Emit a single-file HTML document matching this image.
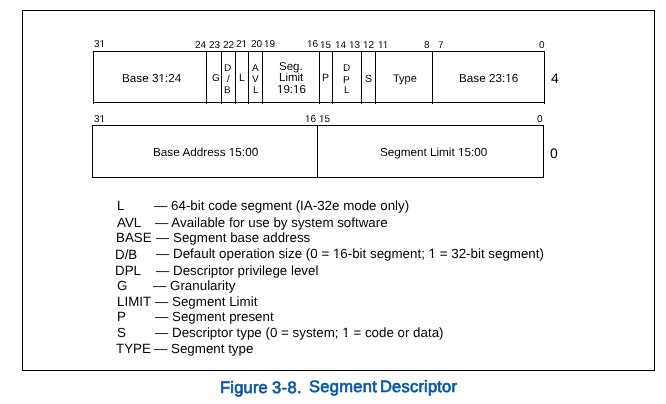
<!DOCTYPE html>
<html><head><meta charset="utf-8"><style>body{margin:0;background:#fff;width:666px;height:404px;overflow:hidden;position:relative} .t{position:absolute;white-space:pre;line-height:1;will-change:transform;text-rendering:geometricPrecision;font-family:'Liberation Sans', sans-serif;color:#000} .o{display:inline-block;clip-path:polygon(-2px -2px,calc(100% + 2px) -2px,calc(100% + 2px) 0.6em,0.235em 0.6em,0.235em 0.6em,0.235em 1.3em,0.357em 1.3em,0.357em 0.6em,-2px 0.6em)} .k{margin-right:-0.0742em} .v{position:absolute;width:1px;background:#000} .h{position:absolute;height:1px;background:#000}</style></head>
<body>
<div class="v" style="left:22px;top:10px;height:361px"></div>
<div class="v" style="left:654px;top:10px;height:361px"></div>
<div class="h" style="left:22px;top:10px;width:633px"></div>
<div class="h" style="left:22px;top:370px;width:633px"></div>
<div class="h" style="left:93px;top:51px;width:452px"></div>
<div class="h" style="left:93px;top:102px;width:452px"></div>
<div class="v" style="left:93px;top:51px;height:53px"></div>
<div class="v" style="left:206px;top:51px;height:53px"></div>
<div class="v" style="left:221px;top:51px;height:53px"></div>
<div class="v" style="left:235px;top:51px;height:53px"></div>
<div class="v" style="left:248px;top:51px;height:53px"></div>
<div class="v" style="left:262px;top:51px;height:53px"></div>
<div class="v" style="left:319px;top:51px;height:53px"></div>
<div class="v" style="left:332px;top:51px;height:53px"></div>
<div class="v" style="left:361px;top:51px;height:53px"></div>
<div class="v" style="left:375px;top:51px;height:53px"></div>
<div class="v" style="left:432px;top:51px;height:53px"></div>
<div class="v" style="left:544px;top:51px;height:53px"></div>
<div class="h" style="left:92px;top:125px;width:452px"></div>
<div class="h" style="left:92px;top:177px;width:452px"></div>
<div class="v" style="left:92px;top:125px;height:53px"></div>
<div class="v" style="left:317px;top:125px;height:53px"></div>
<div class="v" style="left:543px;top:125px;height:53px"></div>
<div class="t" style="left:94.00px;top:40.00px;font-size:10px;">3<span class="o">1</span></div>
<div class="t" style="left:195.00px;top:41.00px;font-size:10px;">24</div>
<div class="t" style="left:209.00px;top:41.00px;font-size:10px;">23</div>
<div class="t" style="left:223.00px;top:41.00px;font-size:10px;">22</div>
<div class="t" style="left:236.00px;top:40.00px;font-size:10px;">2<span class="o">1</span></div>
<div class="t" style="left:251.00px;top:40.00px;font-size:10px;">20</div>
<div class="t" style="left:264.00px;top:40.00px;font-size:10px;"><span class="o">1</span>9</div>
<div class="t" style="left:307.00px;top:40.00px;font-size:10px;"><span class="o">1</span>6</div>
<div class="t" style="left:320.00px;top:41.00px;font-size:10px;"><span class="o">1</span>5</div>
<div class="t" style="left:335.00px;top:41.00px;font-size:10px;"><span class="o">1</span>4</div>
<div class="t" style="left:349.00px;top:41.00px;font-size:10px;"><span class="o">1</span>3</div>
<div class="t" style="left:363.00px;top:41.00px;font-size:10px;"><span class="o">1</span>2</div>
<div class="t" style="left:378.00px;top:41.00px;font-size:10px;"><span class="o k">1</span><span class="o">1</span></div>
<div class="t" style="left:424.00px;top:41.00px;font-size:10px;">8</div>
<div class="t" style="left:438.00px;top:41.00px;font-size:10px;">7</div>
<div class="t" style="left:539.00px;top:41.00px;font-size:10px;">0</div>
<div class="t" style="left:94.00px;top:115.00px;font-size:10px;">3<span class="o">1</span></div>
<div class="t" style="left:305.00px;top:115.00px;font-size:10px;"><span class="o">1</span>6</div>
<div class="t" style="left:319.00px;top:115.00px;font-size:10px;"><span class="o">1</span>5</div>
<div class="t" style="left:537.00px;top:115.00px;font-size:10px;">0</div>
<div class="t" style="left:122.00px;top:73.00px;font-size:11.7px;">Base 3<span class="o">1</span>:24</div>
<div class="t" style="left:212.00px;top:74.00px;font-size:10px;">G</div>
<div class="t" style="left:224.00px;top:64.00px;font-size:10px;">D</div>
<div class="t" style="left:227.00px;top:75.00px;font-size:10px;">/</div>
<div class="t" style="left:224.00px;top:86.00px;font-size:10px;">B</div>
<div class="t" style="left:239.00px;top:73.00px;font-size:10.5px;">L</div>
<div class="t" style="left:252.00px;top:64.00px;font-size:10px;">A</div>
<div class="t" style="left:252.00px;top:75.00px;font-size:10px;">V</div>
<div class="t" style="left:253.00px;top:86.00px;font-size:10px;">L</div>
<div class="t" style="left:279.00px;top:62.00px;font-size:11.5px;">Seg.</div>
<div class="t" style="left:279.00px;top:73.00px;font-size:11.5px;">Limit</div>
<div class="t" style="left:277.00px;top:85.00px;font-size:11.5px;"><span class="o">1</span>9:<span class="o">1</span>6</div>
<div class="t" style="left:322.00px;top:73.00px;font-size:10.5px;">P</div>
<div class="t" style="left:343.00px;top:64.00px;font-size:10px;">D</div>
<div class="t" style="left:343.00px;top:76.00px;font-size:10px;">P</div>
<div class="t" style="left:344.00px;top:86.00px;font-size:10px;">L</div>
<div class="t" style="left:365.00px;top:74.00px;font-size:10.5px;">S</div>
<div class="t" style="left:393.00px;top:74.00px;font-size:11px;">Type</div>
<div class="t" style="left:459.00px;top:73.00px;font-size:11.7px;">Base 23:<span class="o">1</span>6</div>
<div class="t" style="left:551.00px;top:71.00px;font-size:14px;">4</div>
<div class="t" style="left:550.00px;top:146.00px;font-size:14px;">0</div>
<div class="t" style="left:153.00px;top:147.00px;font-size:11.75px;">Base Address <span class="o">1</span>5:00</div>
<div class="t" style="left:380.00px;top:147.00px;font-size:11.7px;">Segment Limit <span class="o">1</span>5:00</div>
<div class="t" style="left:117.00px;top:199.00px;font-size:13.35px;">L</div>
<div class="t" style="left:154.00px;top:199.00px;font-size:13.35px;">— 64-bit code segment (IA-32e mode only)</div>
<div class="t" style="left:117.00px;top:216.00px;font-size:13.35px;">AVL</div>
<div class="t" style="left:155.00px;top:216.00px;font-size:13.35px;">— Available for use by system software</div>
<div class="t" style="left:116.00px;top:231.00px;font-size:13.35px;">BASE</div>
<div class="t" style="left:156.00px;top:231.00px;font-size:13.35px;">— Segment base address</div>
<div class="t" style="left:115.00px;top:248.00px;font-size:13.35px;">D/B</div>
<div class="t" style="left:156.00px;top:247.00px;font-size:13.35px;">— Default operation size (0 = <span class="o">1</span>6-bit segment; <span class="o">1</span> = 32-bit segment)</div>
<div class="t" style="left:115.00px;top:264.00px;font-size:13.35px;">DPL</div>
<div class="t" style="left:156.00px;top:264.00px;font-size:13.35px;">— Descriptor privilege level</div>
<div class="t" style="left:117.00px;top:279.00px;font-size:13.35px;">G</div>
<div class="t" style="left:153.00px;top:279.00px;font-size:13.35px;">— Granularity</div>
<div class="t" style="left:117.00px;top:295.00px;font-size:13.35px;">LIMIT</div>
<div class="t" style="left:155.00px;top:295.00px;font-size:13.35px;">— Segment Limit</div>
<div class="t" style="left:117.00px;top:310.00px;font-size:13.35px;">P</div>
<div class="t" style="left:155.00px;top:310.00px;font-size:13.35px;">— Segment present</div>
<div class="t" style="left:117.00px;top:326.00px;font-size:13.35px;">S</div>
<div class="t" style="left:155.00px;top:326.00px;font-size:13.35px;">— Descriptor type (0 = system; <span class="o">1</span> = code or data)</div>
<div class="t" style="left:116.00px;top:342.00px;font-size:13.35px;">TYPE</div>
<div class="t" style="left:154.00px;top:342.00px;font-size:13.35px;">— Segment type</div>
<div class="t" style="left:220.00px;top:380.00px;font-size:16.5px;color:#0457a4;letter-spacing:0.2px;-webkit-text-stroke:0.65px #0457a4;">Figure</div>
<div class="t" style="left:272.00px;top:380.00px;font-size:16.5px;color:#0457a4;letter-spacing:0.4px;-webkit-text-stroke:0.65px #0457a4;">3-8.</div>
<div class="t" style="left:309.00px;top:379.00px;font-size:16.5px;color:#0457a4;letter-spacing:0.3px;-webkit-text-stroke:0.65px #0457a4;">Segment</div>
<div class="t" style="left:380.00px;top:379.00px;font-size:16.5px;color:#0457a4;letter-spacing:0.2px;-webkit-text-stroke:0.65px #0457a4;">Descriptor</div>
</body></html>
